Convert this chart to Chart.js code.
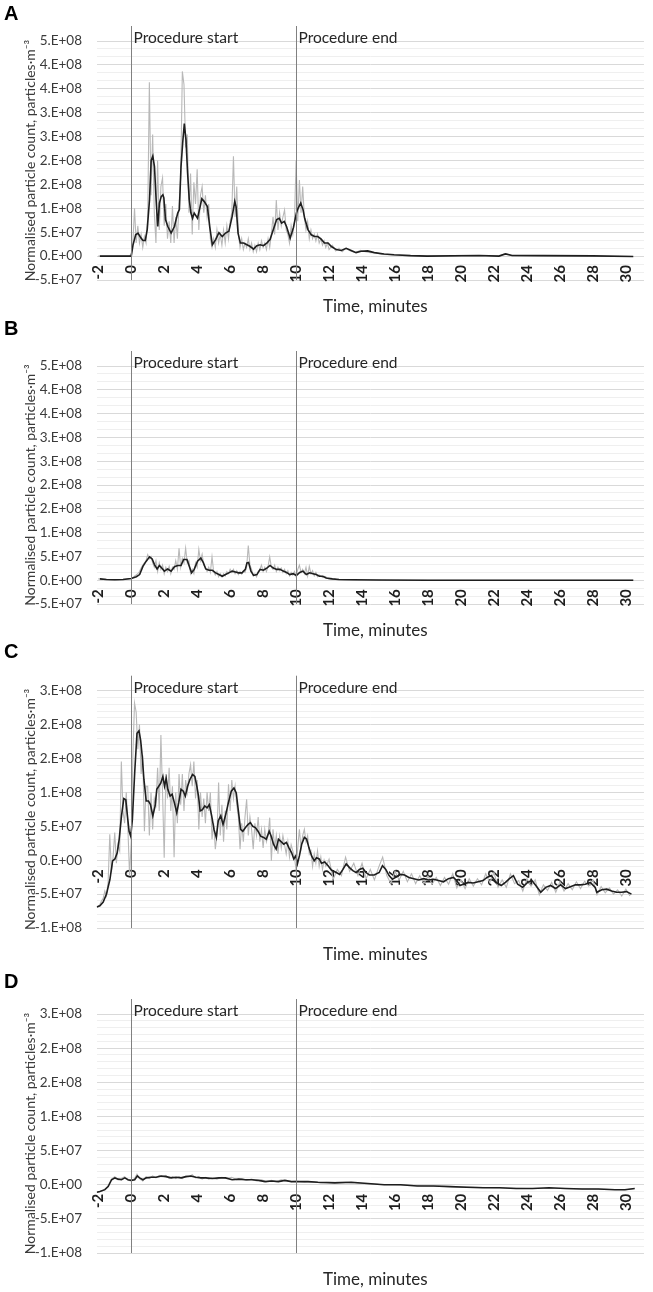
<!DOCTYPE html>
<html>
<head>
<meta charset="utf-8">
<script src="https://cdn.jsdelivr.net/npm/chart.js@4.4.1/dist/chart.umd.min.js"></script>
<style>
  body { margin: 0; background: #fff; }
  canvas { display: block; }
</style>
</head>
<body>
<canvas id="chartA" width="653" height="320"></canvas>
<canvas id="chartB" width="653" height="320"></canvas>
<canvas id="chartC" width="653" height="320"></canvas>
<canvas id="chartD" width="653" height="332"></canvas>
<script>
// values are in units of 1E+07 particles per m3, time in minutes
const xTicks = [-2, 0, 2, 4, 6, 8, 10, 12, 14, 16, 18, 20, 22, 24, 26, 28, 30];
const markerTimes = [0, 10];
const markerLabels = ['Procedure start', 'Procedure end'];
const yLabelsAB = ['-5.E+07', '0.E+00', '5.E+07', '1.E+08', '2.E+08', '2.E+08', '3.E+08', '3.E+08', '4.E+08', '4.E+08', '5.E+08'];
const yLabelsCD = ['-1.E+08', '-5.E+07', '0.E+00', '5.E+07', '1.E+08', '2.E+08', '2.E+08', '3.E+08'];

// sampling times of the raw counts (dense part)
const tGrid = [
  -2.0, -1.9, -1.8, -1.7, -1.6, -1.5, -1.4, -1.3, -1.2, -1.1,
  -1.0, -0.9, -0.8, -0.7, -0.6, -0.5, -0.4, -0.3, -0.2, -0.1,
  0.0, 0.1, 0.2, 0.3, 0.4, 0.5, 0.6, 0.7, 0.8, 0.9,
  1.0, 1.1, 1.2, 1.3, 1.4, 1.5, 1.6, 1.7, 1.8, 1.9,
  2.0, 2.1, 2.2, 2.3, 2.4, 2.5, 2.6, 2.7, 2.8, 2.9,
  3.0, 3.1, 3.2, 3.3, 3.4, 3.5, 3.6, 3.7, 3.8, 3.9,
  4.0, 4.1, 4.2, 4.3, 4.4, 4.5, 4.6, 4.7, 4.8, 4.9,
  5.0, 5.1, 5.2, 5.3, 5.4, 5.5, 5.6, 5.7, 5.8, 5.9,
  6.0, 6.1, 6.2, 6.3, 6.4, 6.5, 6.6, 6.7, 6.8, 6.9,
  7.0, 7.1, 7.2, 7.3, 7.4, 7.5, 7.6, 7.7, 7.8, 7.9,
  8.0, 8.1, 8.2, 8.3, 8.4, 8.5, 8.6, 8.7, 8.8, 8.9,
  9.0, 9.1, 9.2, 9.3, 9.4, 9.5, 9.6, 9.7, 9.8, 9.9,
  10.0, 10.1, 10.2, 10.3, 10.4, 10.5, 10.6, 10.7, 10.8, 10.9,
  11.0, 11.1, 11.2, 11.3, 11.4, 11.5, 11.6, 11.7, 11.8, 11.9,
  12.0
];

// ---- A ----
const rawA = [
  0, 0, 0, 0, 0, 0, 0, 0, 0, 0,
  0, 0, 0, 0, 0, 0, 0, 0, 0, 0,
  0.5, 3, 11, 3, 7, 3, 5, 2, 4.5, 3,
  9, 40, 14, 28, 10, 3, 22, 6, 16, 18,
  7, 12, 4, 8, 3, 11.5, 3, 9, 4, 12,
  18, 42.5, 39.5, 25, 28, 10, 19, 5, 17, 12,
  20, 6, 14, 16, 10, 14, 9, 12, 4, 2,
  4, 2, 6, 3, 5, 2.5, 6, 3, 7, 4,
  8, 10, 23, 9, 16, 5, 2, 4, 1.5, 3,
  2, 4, 1.5, 3, 1, 2.5, 1, 3, 1.5, 3.5,
  2, 3, 1.5, 4, 2, 5, 9, 5, 12.9, 6,
  10, 7, 9, 10.6, 6, 5, 3, 7, 5, 8,
  22, 8, 17.5, 10, 16, 9, 6, 8, 4, 6,
  4, 5, 3.5, 5, 3, 4, 2.5, 3.5, 2, 3,
  1.5
];
const rawA_tailT = [12.2, 12.4, 12.6, 12.8, 13.0, 13.3, 13.6, 13.9, 14.2, 14.5, 14.8, 15.2, 15.6, 16.0, 17.0, 18.0, 21.0, 22.3, 22.7, 23.1, 30.45];
const rawA_tail = [2.5, 1.2, 1.8, 1, 1.8, 1.2, 0.8, 1.3, 1, 0.8, 0.8, 0.4, 0.3, 0.2, 0.1, 0, 0.15, 0, 0.6, 0.1, -0.1];
const avgA_t = [
  -1.9, 0, 0.11, 0.27, 0.41, 0.55, 0.71, 0.85, 0.97, 1.11,
  1.21, 1.31, 1.41, 1.51, 1.61, 1.71, 1.82, 1.92, 1.98, 2.08,
  2.22, 2.42, 2.62, 2.82, 2.92, 3.02, 3.12, 3.22, 3.32, 3.42,
  3.52, 3.62, 3.72, 3.82, 4.02, 4.18, 4.28, 4.42, 4.62, 4.76,
  4.92, 5.12, 5.32, 5.52, 5.72, 5.92, 6.12, 6.28, 6.36, 6.48,
  6.62, 6.82, 7.02, 7.22, 7.42, 7.62, 7.82, 8.02, 8.22, 8.42,
  8.62, 8.82, 8.98, 9.12, 9.28, 9.42, 9.64, 9.84, 10.02, 10.12,
  10.28, 10.42, 10.52, 10.72, 10.92, 11.12, 11.32, 11.52, 11.72, 11.94,
  12.14, 12.44, 12.74, 13.04, 13.34, 13.64, 13.94, 14.34, 14.74, 15.34,
  15.94, 16.94, 17.94, 21.1, 22.3, 22.7, 23.1, 25, 28, 30.45
];
const avgA = [
  0, 0, 2.6, 4.9, 5.3, 4.4, 3.6, 3.6, 6.1, 13,
  22, 23, 20.6, 13, 6.8, 12.2, 13.7, 14.1, 13.4, 8.4,
  6.8, 5.3, 6.8, 9.9, 10.7, 20.6, 26, 30.5, 26.8, 19.1,
  13, 9.9, 8.7, 9.9, 8.7, 11.4, 13.2, 12.6, 11.4, 6.8,
  2.6, 3.8, 5.4, 4.5, 5.3, 5.7, 9.1, 12.6, 11.4, 5.3,
  3.0, 3.0, 2.6, 2.2, 1.6, 2.4, 2.6, 2.4, 3.0, 3.8,
  6.1, 8.4, 8.7, 7.6, 8.0, 6.8, 4.1, 6.6, 9.9, 11,
  12.2, 10.7, 8.7, 6.1, 4.9, 4.5, 4.5, 3.9, 3.0, 3.0,
  2.2, 1.5, 1.3, 1.8, 1.3, 0.8, 1.1, 1.2, 0.8, 0.5,
  0.3, 0.1, 0, 0.15, 0, 0.5, 0.15, 0.1, 0.05, -0.1
];

// ---- B ----
const rawB = [
  0.3, 0.3, 0.25, 0.2, 0.2, 0.15, 0.15, 0.1, 0.1, 0.1,
  0.1, 0.1, 0.1, 0.15, 0.15, 0.15, 0.2, 0.25, 0.3, 0.35,
  0.4, 0.6, 0.9, 1.2, 1.5, 2, 2.8, 3.5, 4, 4.5,
  5.9, 5, 5.5, 4, 3, 4.5, 2, 4, 2.5, 3.5,
  1.5, 3, 2, 3.2, 1.5, 3, 2.5, 4.5, 2.5, 7.4,
  3, 5, 4, 7.4, 4, 4.5, 1.5, 2.5, 1.5, 4,
  3, 7.1, 4.5, 6, 3.5, 3, 2, 3, 1.8, 5.4,
  2, 1.2, 2, 0.8, 1.5, 0.8, 1.5, 1, 2, 1.5,
  2.5, 1.8, 2.5, 1.5, 2.2, 1.3, 2, 1.4, 2.2, 1.8,
  3, 8, 3.5, 2.5, 1, 1.5, 0.8, 2, 2.5, 3.5,
  2, 3, 2, 3.2, 5.4, 3, 2.5, 3.5, 2, 3,
  2.2, 2.8, 1.8, 2.5, 1.5, 2.2, 1, 1.8, 1.2, 2,
  0.8, 2.5, 3.5, 1.8, 2.5, 1.5, 3, 1, 3.2, 1.5,
  2.2, 1, 1.8, 0.8, 1.2, 1, 0.6, 0.9, 0.8, 0.4,
  0.3
];
const rawB_tailT = [12.3, 12.6, 13.0, 30.45];
const rawB_tail = [0.2, 0.1, 0.05, 0];
const avgB_t = [
  -1.9, -1.5, -1, -0.5, 0, 0.31, 0.51, 0.71, 0.91, 1.11,
  1.27, 1.41, 1.57, 1.71, 1.85, 2.01, 2.21, 2.42, 2.62, 2.82,
  3.02, 3.18, 3.38, 3.52, 3.66, 3.82, 4.02, 4.22, 4.38, 4.52,
  4.72, 4.92, 5.12, 5.32, 5.52, 5.72, 5.92, 6.12, 6.32, 6.52,
  6.72, 6.92, 7.02, 7.12, 7.26, 7.42, 7.62, 7.82, 8.02, 8.22,
  8.42, 8.62, 8.82, 9.02, 9.22, 9.42, 9.62, 9.82, 10.02, 10.22,
  10.42, 10.62, 10.82, 11.02, 11.22, 11.42, 11.62, 11.82, 12.2, 12.6,
  13.5, 15, 18, 22, 26, 30.45
];
const avgB = [
  0.3, 0.15, 0.1, 0.15, 0.4, 0.8, 1.3, 3.2, 4.4, 5.4,
  4.9, 3.6, 2.6, 3.4, 2.8, 2.1, 2.6, 2.1, 3.1, 3.4,
  3.4, 4.8, 4.8, 3.2, 1.7, 2.5, 4.4, 5.1, 4.0, 2.6,
  2.3, 2.3, 1.7, 1.3, 0.9, 1.3, 1.7, 2.1, 1.9, 1.7,
  1.7, 2.5, 4.0, 4.1, 2.1, 1.1, 1.3, 2.5, 2.3, 2.8,
  3.4, 2.8, 2.5, 2.5, 2.1, 1.8, 1.3, 1.5, 1.1, 1.8,
  2.1, 1.3, 1.7, 1.5, 1.3, 0.9, 0.9, 0.5, 0.3, 0.15,
  0.1, 0.05, 0, 0, 0, 0
];

// ---- C ----
const rawC = [
  -7.5, -7.2, -6.6, -6.2, -5.0, -5.8, -3.5, 4.2, -2.0, 0.5,
  4.5, -0.5, 2.5, 1.5, 16, 8, 6, 11, 5, -2.5,
  3, 17, 25.5, 24, 18, 22, 14, 17, 4.7, 12,
  12, 4, 11, 5, 10, 9, 15, 8, 20.3, 11,
  0.4, 14, 10, 15, 8, 12, 0.5, 11, 6, 14,
  9, 14, 8, 13, 11, 14, 15.5, 12, 16, 10,
  13, 5, 11, 7, 10, 6, 11, 8, 11, 3.4,
  6, 1.8, 4, 12.6, 4, 9, 3, 8, 5, 12.3,
  8, 13, 10, 12, 9, 7, 1.8, 6, 3, 7,
  9.9, 4, 7, 5, 1.8, 6, 4, 7, 3, 5,
  2, 5, 3, 4, 6.9, -0.1, 5, 2, 4, 1,
  3.9, 2, 4, 2.5, 1, 3, 0.5, 2.5, 1.5, 0.5,
  -1.6, 2, 5, 2, 4, 5, 3, 4, 1, 1.5,
  -1, 1, -0.5, 1.5, -1, 0.5, -1.5, 0, -1, -0.5,
  0.16
];
const rawC_tailT = [
  12.25, 12.5, 12.75, 13.0, 13.25, 13.5, 13.75, 14.0, 14.25, 14.5,
  14.75, 15.0, 15.25, 15.5, 15.75, 16.0, 16.25, 16.5, 16.75, 17.0,
  17.25, 17.5, 17.75, 18.0, 18.25, 18.5, 18.75, 19.0, 19.25, 19.5,
  19.75, 20.0, 20.25, 20.5, 20.75, 21.0, 21.25, 21.5, 21.75, 22.0,
  22.25, 22.5, 22.75, 23.0, 23.25, 23.5, 23.75, 24.0, 24.25, 24.5,
  24.75, 25.0, 25.25, 25.5, 25.75, 26.0, 26.25, 26.5, 26.75, 27.0,
  27.25, 27.5, 27.75, 28.0, 28.25, 28.5, 28.75, 29.0, 29.25, 29.5,
  29.75, 30.0, 30.25
];
const rawC_tail = [
  -3.1, -1.5, -2.5, 0.5, -1.8, -0.5, -2.5, -0.5, -3, -1.5,
  -3.2, -1.2, 0.5, -2.5, -3.8, -1.8, -3.2, -1.8, -3.5, -2.2,
  -3.8, -2.5, -3.8, -2.6, -3.9, -2.8, -4.1, -2.8, -3.9, -2.2,
  -4.5, -3.2, -4.6, -3.0, -4.2, -3.0, -4.0, -2.2, -3.6, -2.0,
  -4.4, -3.2, -4.4, -2.2, -3.8, -3.3, -5.0, -3.0, -4.2, -3.2,
  -5.6, -4.0, -4.9, -3.6, -5.2, -3.5, -5.0, -3.8, -4.8, -3.5,
  -4.6, -3.4, -4.2, -3.2, -5.6, -4.3, -5.3, -4.5, -5.5, -4.8,
  -5.8, -4.7, -5.8
];
const avgC_t = [
  -2.09, -1.9, -1.7, -1.5, -1.29, -1.13, -0.99, -0.85, -0.73, -0.59,
  -0.45, -0.33, -0.23, -0.13, -0.03, 0.07, 0.21, 0.35, 0.47, 0.57,
  0.67, 0.77, 0.91, 1.05, 1.17, 1.31, 1.45, 1.55, 1.67, 1.79,
  1.92, 2.02, 2.12, 2.22, 2.36, 2.48, 2.62, 2.76, 2.88, 3.02,
  3.16, 3.28, 3.42, 3.56, 3.72, 3.86, 3.98, 4.08, 4.18, 4.32,
  4.46, 4.6, 4.74, 4.88, 5.02, 5.16, 5.28, 5.43, 5.57, 5.73,
  5.89, 6.07, 6.23, 6.37, 6.49, 6.63, 6.77, 6.93, 7.09, 7.23,
  7.37, 7.53, 7.69, 7.85, 8.03, 8.19, 8.37, 8.49, 8.63, 8.79,
  8.93, 9.09, 9.25, 9.41, 9.57, 9.73, 9.86, 9.98, 10.08, 10.2,
  10.34, 10.5, 10.64, 10.78, 10.94, 11.1, 11.24, 11.4, 11.54, 11.74,
  11.94, 12.14, 12.44, 12.64, 12.84, 13.04, 13.24, 13.44, 13.64, 13.84,
  14.04, 14.24, 14.44, 14.74, 15.04, 15.24, 15.44, 15.64, 15.84, 16.14,
  16.34, 16.58, 16.84, 17.14, 17.44, 17.74, 18.04, 18.34, 18.64, 18.94,
  19.24, 19.54, 19.74, 19.94, 20.14, 20.44, 20.74, 21.04, 21.34, 21.58,
  21.84, 22.14, 22.44, 22.7, 22.94, 23.18, 23.44, 23.74, 24.04, 24.3,
  24.54, 24.84, 25.14, 25.44, 25.74, 26.04, 26.34, 26.64, 26.94, 27.24,
  27.54, 27.84, 28.14, 28.24, 28.54, 28.84, 29.14, 29.44, 29.74, 30.04,
  30.34
];
const avgC = [
  -7.6, -7.4, -6.8, -5.5, -3.1, -0.1, 0.2, 1.2, 3.4, 7.2,
  10, 9.8, 7.2, 4.7, 3.9, 6.6, 14.2, 20.6, 21, 19.5,
  16.8, 13.1, 9.6, 9.6, 9.0, 7.2, 8.8, 11.5, 12, 12.5,
  13.6, 12, 13.3, 11.5, 10.4, 10.7, 9.3, 7.7, 9.3, 11.5,
  11.2, 10.4, 12, 13.1, 13.9, 13.6, 12, 10.4, 8.0, 8.2,
  8.8, 8.5, 9.0, 7.2, 5.0, 3.7, 6.4, 7.2, 5.8, 7.4,
  9.3, 11.2, 11.7, 10.9, 8.2, 5.0, 4.7, 5.3, 5.8, 6.1,
  5.5, 5.3, 4.7, 3.9, 3.7, 3.4, 4.7, 3.9, 2.6, 1.8,
  3.4, 3.0, 2.6, 2.9, 2.0, 1.2, 0.2, 0.7, -0.6, 0.7,
  2.6, 3.7, 3.4, 2.0, 0.7, -0.1, 0.4, 0.2, -0.5, -0.3,
  -0.9, -1.6, -2.0, -2.3, -1.5, -0.6, -1.2, -1.7, -2.0, -1.5,
  -1.3, -2.0, -2.4, -2.4, -2.0, -0.9, -1.5, -2.5, -3.1, -2.6,
  -2.3, -2.4, -2.8, -3.0, -3.2, -3.0, -3.2, -3.1, -3.3, -3.5,
  -3.0, -2.8, -3.3, -4.1, -3.9, -3.6, -3.7, -3.5, -3.3, -2.8,
  -2.5, -3.6, -4.1, -3.6, -3.0, -2.5, -3.9, -4.4, -3.6, -3.3,
  -4.1, -5.2, -4.4, -4.1, -4.6, -4.0, -4.6, -4.3, -4.0, -4.0,
  -3.9, -3.6, -4.4, -5.2, -4.8, -4.7, -5.0, -5.2, -5.2, -5.1,
  -5.5
];

// ---- D ----
const rawD_t = [
  -2.0, -1.8, -1.6, -1.4, -1.2, -1.0, -0.8, -0.6, -0.4, -0.2,
  0.0, 0.2, 0.35, 0.5, 0.7, 0.9, 1.1, 1.3, 1.5, 1.7,
  1.9, 2.1, 2.3, 2.5, 2.7, 2.9, 3.1, 3.3, 3.5, 3.7,
  3.9, 4.1, 4.3, 4.5, 4.7, 4.9, 5.2, 5.5, 5.8, 6.1,
  6.4, 6.7, 7.0, 7.3, 7.6, 7.9, 8.2, 8.5, 8.8, 9.1,
  9.4, 9.7, 10.0, 10.5, 11.0, 11.5, 12.0, 13, 14, 15,
  16, 18, 20, 22, 24, 26, 28, 30, 30.5
];
const rawD = [
  -1.2, -1.0, -0.8, -0.2, 0.9, 1.3, 0.8, 1.0, 1.3, 0.7,
  0.6, 1.0, 1.7, 1.0, 0.6, 1.3, 1.0, 1.4, 1.1, 1.5,
  1.3, 1.5, 1.0, 1.3, 1.0, 1.3, 1.0, 1.4, 1.3, 1.6,
  1.1, 1.3, 0.9, 1.2, 0.9, 1.1, 0.9, 1.2, 1.0, 1.2,
  0.8, 1.0, 0.7, 0.9, 0.6, 0.8, 0.5, 0.7, 0.5, 0.8,
  0.6, 0.5, 0.6, 0.4, 0.5, 0.3, 0.4, 0.4, 0.2, 0.05,
  0.0, -0.2, -0.35, -0.5, -0.6, -0.6, -0.7, -0.8, -0.6
];
const avgD_t = [
  -2.09, -1.9, -1.6, -1.4, -1.19, -0.99, -0.79, -0.59, -0.39, -0.19,
  0.01, 0.21, 0.37, 0.51, 0.71, 0.91, 1.21, 1.51, 1.82, 2.12,
  2.42, 2.72, 3.02, 3.32, 3.62, 3.92, 4.22, 4.52, 4.92, 5.32,
  5.72, 6.12, 6.52, 6.92, 7.32, 7.72, 8.12, 8.52, 8.92, 9.32,
  9.72, 10.12, 10.72, 11.32, 12.34, 13.34, 14.34, 15.34, 16.34, 17.34,
  18.34, 19.34, 20.34, 21.34, 22.34, 23.34, 24.34, 25.34, 26.34, 27.34,
  28.34, 29.34, 29.94, 30.54
];
const avgD = [
  -1.2, -1.1, -0.8, -0.3, 0.8, 1.1, 0.9, 0.8, 1.1, 0.8,
  0.7, 0.8, 1.4, 1.1, 0.8, 1.1, 1.2, 1.2, 1.4, 1.3,
  1.1, 1.2, 1.1, 1.3, 1.4, 1.2, 1.1, 1.1, 1.0, 1.1,
  1.1, 0.8, 0.9, 0.8, 0.8, 0.7, 0.5, 0.6, 0.5, 0.7,
  0.5, 0.5, 0.5, 0.4, 0.3, 0.4, 0.2, 0, 0, -0.2,
  -0.2, -0.3, -0.4, -0.5, -0.5, -0.6, -0.6, -0.5, -0.6, -0.7,
  -0.7, -0.8, -0.8, -0.6
];

Chart.defaults.font.family = 'Lato';

function pairs(ts, vs) {
  return ts.map((t, i) => ({ x: t, y: vs[i] }));
}

// vertical procedure lines, their captions, the x title and the panel letter
const panelDecor = {
  id: 'panelDecor',
  afterDraw(chart, args, opts) {
    const { ctx, chartArea } = chart;
    const x = chart.scales.x;
    ctx.save();
    markerTimes.forEach((t, i) => {
      const px = Math.round(x.getPixelForValue(t)) + 0.5;
      ctx.strokeStyle = '#808080';
      ctx.lineWidth = 1;
      ctx.beginPath();
      ctx.moveTo(px, chartArea.top - 15);
      ctx.lineTo(px, chartArea.bottom);
      ctx.stroke();
      ctx.fillStyle = '#262626';
      ctx.font = '15.5px Lato';
      ctx.textAlign = 'left';
      ctx.textBaseline = 'alphabetic';
      ctx.fillText(markerLabels[i], px + 2, chartArea.top + 2);
    });
    ctx.fillStyle = '#262626';
    ctx.font = '17px Lato';
    ctx.textAlign = 'center';
    ctx.textBaseline = 'middle';
    ctx.fillText('Time, minutes', (chartArea.left + chartArea.right) / 2 + 5, chartArea.bottom + 27);
    ctx.fillStyle = '#000';
    ctx.font = 'bold 20px "Liberation Sans"';
    ctx.textAlign = 'left';
    ctx.textBaseline = 'alphabetic';
    ctx.fillText(opts.letter, 4, opts.letterBase);
    ctx.restore();
  }
};

function makePanel(id, p) {
  const yStep = 5.5;
  const div = p.minorDiv;
  new Chart(document.getElementById(id), {
    type: 'line',
    data: {
      datasets: [
        {
          data: pairs(p.tAvg, p.vAvg),
          borderColor: '#1e1e1e',
          borderWidth: 1.6,
          pointRadius: 0,
          tension: 0,
          order: 1
        },
        {
          data: pairs(p.tRaw, p.vRaw),
          borderColor: '#b8b8b8',
          borderWidth: 1.1,
          pointRadius: 0,
          tension: 0,
          order: 2
        }
      ]
    },
    options: {
      responsive: false,
      animation: false,
      events: [],
      layout: { padding: { left: 0, right: 4.6, top: p.padTop, bottom: p.padBottom } },
      plugins: {
        legend: { display: false },
        tooltip: { enabled: false },
        panelDecor: { letter: p.letter, letterBase: p.letterBase }
      },
      scales: {
        x: {
          type: 'linear',
          min: -2.1,
          max: 31.1,
          position: { y: 0 },
          grid: { display: false, drawTicks: false },
          border: { display: false },
          afterBuildTicks: s => { s.ticks = xTicks.map(v => ({ value: v })); },
          afterFit: s => { s.height = 0; },
          ticks: {
            autoSkip: false,
            minRotation: 90,
            maxRotation: 90,
            padding: 9,
            color: '#1e1e1e',
            font: { size: 15, weight: 'bold' }
          }
        },
        y: {
          min: p.yMin,
          max: p.yMin + (p.yLabels.length - 1) * yStep,
          afterBuildTicks: s => {
            const n = (p.yLabels.length - 1) * div;
            const ticks = [];
            for (let i = 0; i <= n; i++) ticks.push({ value: p.yMin + i * yStep / div });
            s.ticks = ticks;
          },
          afterFit: s => { s.width = 96.6; },
          grid: {
            drawTicks: false,
            color: c => (c.index % div === 0 ? '#d9d9d9' : '#efefef'),
            lineWidth: 1
          },
          border: { display: false },
          ticks: {
            autoSkip: false,
            padding: 14.6,
            color: '#3a3a3a',
            font: { size: 13.5 },
            callback: (v, i) => (i % div === 0 ? p.yLabels[i / div] : '')
          },
          title: {
            display: true,
            text: 'Normalised particle count, particles·m⁻³',
            color: '#3a3a3a',
            font: { size: 14 },
            padding: { top: 21.6, bottom: 0 }
          }
        }
      }
    },
    plugins: [panelDecor]
  });
}

makePanel('chartA', {
  letter: 'A', letterBase: 19.5, padTop: 41, padBottom: 40,
  yMin: -5.5, yLabels: yLabelsAB, minorDiv: 3,
  tAvg: avgA_t, vAvg: avgA,
  tRaw: tGrid.concat(rawA_tailT), vRaw: rawA.concat(rawA_tail)
});
makePanel('chartB', {
  letter: 'B', letterBase: 15, padTop: 46, padBottom: 36,
  yMin: -5.5, yLabels: yLabelsAB, minorDiv: 3,
  tAvg: avgB_t, vAvg: avgB,
  tRaw: tGrid.concat(rawB_tailT), vRaw: rawB.concat(rawB_tail)
});
makePanel('chartC', {
  letter: 'C', letterBase: 18, padTop: 50.7, padBottom: 32,
  yMin: -11, yLabels: yLabelsCD, minorDiv: 5,
  tAvg: avgC_t, vAvg: avgC,
  tRaw: tGrid.concat(rawC_tailT), vRaw: rawC.concat(rawC_tail)
});
makePanel('chartD', {
  letter: 'D', letterBase: 28, padTop: 54, padBottom: 39,
  yMin: -11, yLabels: yLabelsCD, minorDiv: 5,
  tAvg: avgD_t, vAvg: avgD,
  tRaw: rawD_t, vRaw: rawD
});
</script>
</body>
</html>
